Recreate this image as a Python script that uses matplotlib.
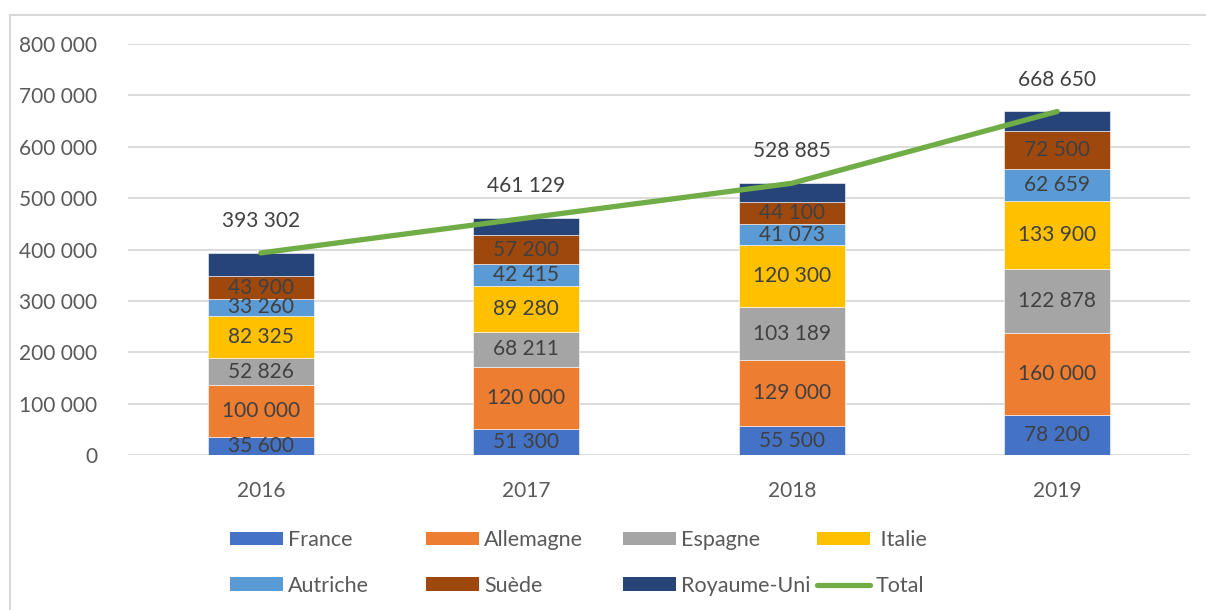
import matplotlib.pyplot as plt
from matplotlib.lines import Line2D
from matplotlib.patches import Patch

# data
years = ['2016', '2017', '2018', '2019']
france = [35600, 51300, 55500, 78200]
allemagne = [100000, 120000, 129000, 160000]
espagne = [52826, 68211, 103189, 122878]
italie = [82325, 89280, 120300, 133900]
autriche = [33260, 42415, 41073, 62659]
suede = [43900, 57200, 44100, 72500]
royaume_uni = [45391, 32723, 35723, 38513]
total = [393302, 461129, 528885, 668650]

series = [
    ('France', france, '#4472C4'),
    ('Allemagne', allemagne, '#ED7D31'),
    ('Espagne', espagne, '#A5A5A5'),
    (' Italie', italie, '#FFC000'),
    ('Autriche', autriche, '#5B9BD5'),
    ('Suède', suede, '#9E480E'),
    ('Royaume-Uni', royaume_uni, '#264478'),
]

plt.rcParams['font.family'] = ['Lato', 'DejaVu Sans']

W, H = 1206, 610
fig = plt.figure(figsize=(W / 100, H / 100), dpi=100)
ax = fig.add_axes([128 / W, 1 - 455 / H, (1190 - 128) / W, (455 - 44) / H])

x = list(range(len(years)))
bottom = [0] * len(years)
handles = {}
for name, vals, col in series:
    bars = ax.bar(x, vals, 0.4, bottom=bottom, color=col, edgecolor='white',
                  linewidth=0.4, zorder=2)
    handles[name] = Patch(facecolor=col)
    if name != 'Royaume-Uni':
        labels = [f'{v:,}'.replace(',', ' ') for v in vals]
        ax.bar_label(bars, labels=labels, label_type='center', fontsize=15,
                     color='#404040')
    bottom = [b + v for b, v in zip(bottom, vals)]

ax.plot(x, total, color='#70AD47', lw=3.8, solid_capstyle='round', zorder=3)
handles['Total'] = Line2D([], [], color='#70AD47', lw=3.8, solid_capstyle='round')
for xi, t in zip(x, total):
    ax.annotate(f'{t:,}'.replace(',', ' '), (xi, t), xytext=(0, 23),
                textcoords='offset points', ha='center', va='center',
                fontsize=15, color='#404040')

ax.set_xlim(-0.5, 3.5)
ax.set_ylim(0, 800000)
ax.set_yticks(range(0, 800001, 100000))
ax.set_yticklabels([f'{v:,}'.replace(',', ' ') for v in range(0, 800001, 100000)])
ax.set_xticks(x)
ax.set_xticklabels(years)
ax.tick_params(length=0, labelsize=15, labelcolor='#595959')
ax.tick_params(axis='y', pad=22)
ax.tick_params(axis='x', pad=19)
ax.grid(axis='y', color='#D9D9D9', lw=1.3, zorder=0)
ax.set_axisbelow(True)
for s in ax.spines.values():
    s.set_visible(False)

# legend laid out like Excel: four equal columns, two rows
cols = [['France', 'Autriche'], ['Allemagne', 'Suède'],
        ['Espagne', 'Royaume-Uni'], [' Italie', 'Total']]
col_x = [230, 426, 623, 817]
for names, cx in zip(cols, col_x):
    leg = fig.legend([handles[n] for n in names], names, loc='center left',
                     bbox_to_anchor=(cx / W, 1 - 563 / H), frameon=False,
                     fontsize=15.5, handlelength=2.45, handleheight=0.6,
                     handletextpad=0.25, labelspacing=1.2, borderpad=0,
                     borderaxespad=0)
    for t in leg.get_texts():
        t.set_color('#595959')

# chart area border
fig.add_artist(Line2D([10 / W, 10 / W], [0, 1 - 15 / H], color='#D9D9D9', lw=1.5))
fig.add_artist(Line2D([10 / W, 1], [1 - 15 / H, 1 - 15 / H], color='#D9D9D9', lw=1.5))

fig.savefig('out.png', dpi=100)
